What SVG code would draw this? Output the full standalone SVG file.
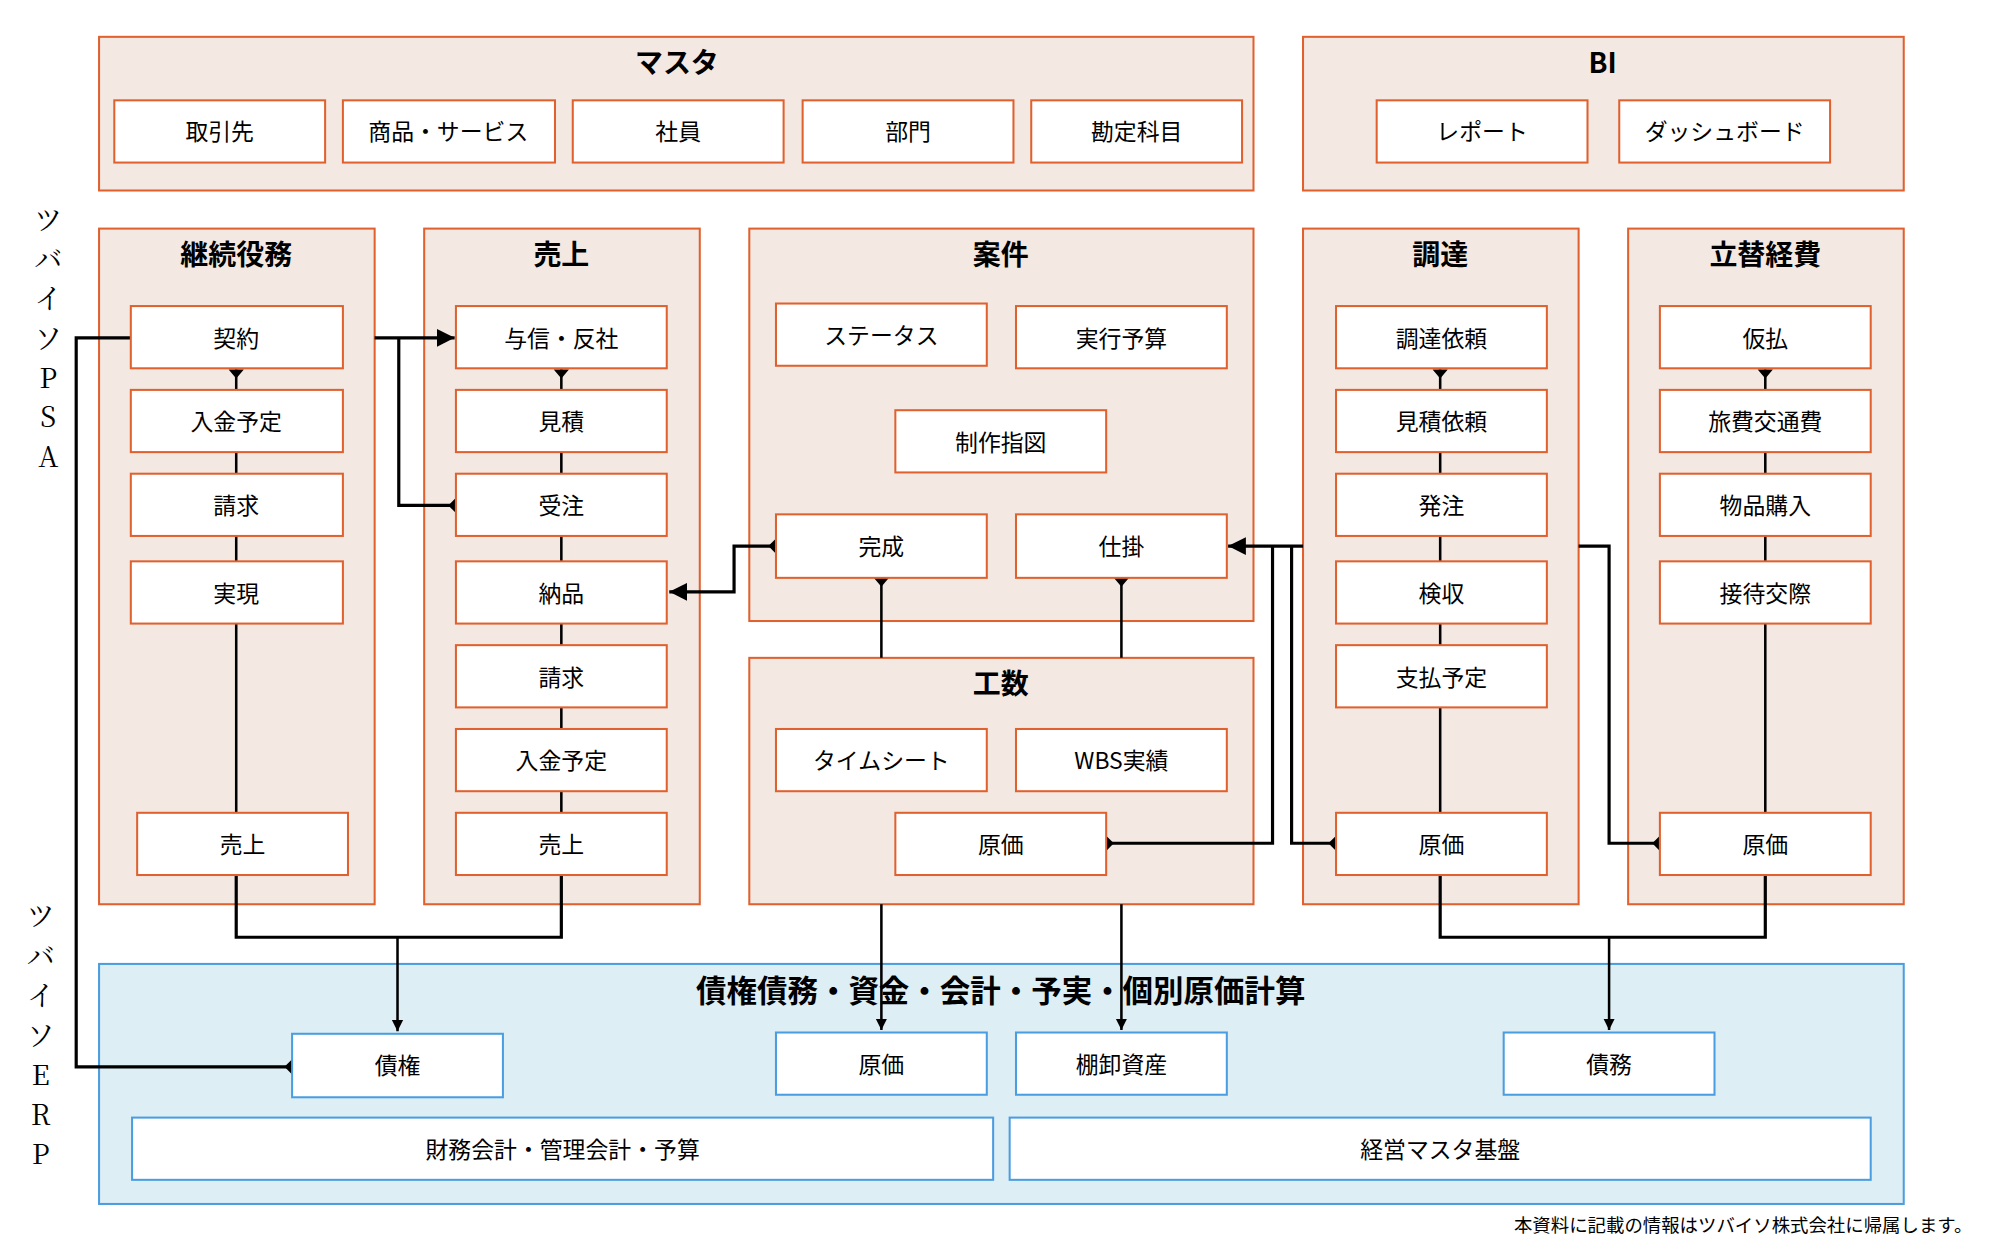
<svg xmlns="http://www.w3.org/2000/svg" width="1990" height="1254" viewBox="0 0 1990 1254">
<style>
.p{fill:#f3e8e2;stroke:#e0602e;stroke-width:1.6}
.b{fill:#fff;stroke:#e0602e;stroke-width:1.6}
.pe{fill:#ddeef5;stroke:#4a9de0;stroke-width:1.6}
.be{fill:#fff;stroke:#4a9de0;stroke-width:1.6}
text{font-family:"Noto Sans CJK JP","Noto Sans",sans-serif;fill:#000;text-anchor:middle;dominant-baseline:central}
.t{font-size:22px;font-weight:bold}
.n{font-size:18px}
.s{font-size:22px;font-family:"Noto Serif CJK JP","Liberation Serif","Noto Sans CJK JP",serif}
.c{fill:none;stroke:#000;stroke-width:2.5}
.cl{fill:none;stroke:#000;stroke-width:2}
.k{fill:#000}
</style>
<defs>
<marker id="ar" viewBox="0 0 10 10" refX="10" refY="5" markerWidth="9" markerHeight="18" orient="auto" markerUnits="userSpaceOnUse"><path d="M0,0L10,5L0,10z" fill="#000"/></marker>
<marker id="ar2" viewBox="0 0 10 10" refX="10" refY="5" markerWidth="14" markerHeight="14" orient="auto" markerUnits="userSpaceOnUse"><path d="M0,0L10,5L0,10z" fill="#000"/></marker>
</defs>
<g transform="scale(1.27)">
<g id="master"><rect class="p" x="78" y="29" width="909" height="121"/><text class="t" x="533" y="48">マスタ</text>
<rect class="b" x="90" y="79" width="166" height="49"/><text class="n" x="173" y="102">取引先</text>
<rect class="b" x="270" y="79" width="167" height="49"/><text class="n" x="353" y="102">商品・サービス</text>
<rect class="b" x="451" y="79" width="166" height="49"/><text class="n" x="534" y="102">社員</text>
<rect class="b" x="632" y="79" width="166" height="49"/><text class="n" x="715" y="102">部門</text>
<rect class="b" x="812" y="79" width="166" height="49"/><text class="n" x="895" y="102">勘定科目</text></g>
<g id="bi"><rect class="p" x="1026" y="29" width="473" height="121"/><text class="t" x="1262" y="48">BI</text>
<rect class="b" x="1084" y="79" width="166" height="49"/><text class="n" x="1167" y="102">レポート</text>
<rect class="b" x="1275" y="79" width="166" height="49"/><text class="n" x="1358" y="102">ダッシュボード</text></g>
<text class="s" x="38" y="172">ツ</text><text class="s" x="38" y="203">バ</text><text class="s" x="38" y="234">イ</text><text class="s" x="38" y="265">ソ</text><text class="s" x="38" y="296">P</text><text class="s" x="38" y="327">S</text><text class="s" x="38" y="358">A</text>
<text class="s" x="32" y="720">ツ</text><text class="s" x="32" y="752">バ</text><text class="s" x="32" y="783">イ</text><text class="s" x="32" y="814">ソ</text><text class="s" x="32" y="845">E</text><text class="s" x="32" y="876">R</text><text class="s" x="32" y="907">P</text>
<g id="panels"><rect class="p" x="78" y="180" width="217" height="532"/><text class="t" x="186" y="199">継続役務</text>
<rect class="p" x="334" y="180" width="217" height="532"/><text class="t" x="442" y="199">売上</text>
<rect class="p" x="590" y="180" width="397" height="309"/><text class="t" x="788" y="199">案件</text>
<rect class="p" x="590" y="518" width="397" height="194"/><text class="t" x="788" y="537">工数</text>
<rect class="p" x="1026" y="180" width="217" height="532"/><text class="t" x="1134" y="199">調達</text>
<rect class="p" x="1282" y="180" width="217" height="532"/><text class="t" x="1390" y="199">立替経費</text>
<rect class="pe" x="78" y="759" width="1421" height="189"/><text class="t" x="788" y="779" style="font-size:24px">債権債務・資金・会計・予実・個別原価計算</text></g>
<g id="connectors">
<path class="cl" d="M186,291V640M442,291V640M1134,291V640M1390,291V640"/>
<path class="c" d="M295,266H358" marker-end="url(#ar2)"/>
<path class="c" d="M314,266V398H359"/>
<path class="c" d="M611,430H578V466H527" marker-end="url(#ar2)"/>
<path class="cl" d="M694,455V518M883,455V518"/>
<path class="cl" d="M694,712V811" marker-end="url(#ar)"/><path class="cl" d="M883,712V811" marker-end="url(#ar)"/>
<path class="c" d="M1026,430H967" marker-end="url(#ar2)"/>
<path class="c" d="M1002,430V664H871"/>
<path class="c" d="M1017,430V664H1052"/>
<path class="c" d="M1243,430H1267V664H1307"/>
<path class="c" d="M103,266H60V840H230"/>
<path class="c" d="M186,689V738H442V689"/><path class="cl" d="M313,738V812" marker-end="url(#ar)"/>
<path class="c" d="M1134,689V738H1390V689"/><path class="cl" d="M1267,738V811" marker-end="url(#ar)"/>
<path class="k" d="M180,291H192L186,298zM436,291H448L442,298zM1128,291H1140L1134,298zM1384,291H1396L1390,298zM688,455H700L694,462zM877,455H889L883,462z"/>
<path class="k" d="M359,392V404L353,398zM611,424V436L605,430zM871,658V670L877,664zM1052,658V670L1046,664zM1307,658V670L1301,664zM230,834V846L224,840z"/>
</g>
<g id="keizoku"><rect class="b" x="103" y="241" width="167" height="49"/><text class="n" x="186" y="265">契約</text>
<rect class="b" x="103" y="307" width="167" height="49"/><text class="n" x="186" y="331">入金予定</text>
<rect class="b" x="103" y="373" width="167" height="49"/><text class="n" x="186" y="397">請求</text>
<rect class="b" x="103" y="442" width="167" height="49"/><text class="n" x="186" y="466">実現</text>
<rect class="b" x="108" y="640" width="166" height="49"/><text class="n" x="191" y="664">売上</text></g>
<g id="uriage"><rect class="b" x="359" y="241" width="166" height="49"/><text class="n" x="442" y="265">与信・反社</text>
<rect class="b" x="359" y="307" width="166" height="49"/><text class="n" x="442" y="331">見積</text>
<rect class="b" x="359" y="373" width="166" height="49"/><text class="n" x="442" y="397">受注</text>
<rect class="b" x="359" y="442" width="166" height="49"/><text class="n" x="442" y="466">納品</text>
<rect class="b" x="359" y="508" width="166" height="49"/><text class="n" x="442" y="532">請求</text>
<rect class="b" x="359" y="574" width="166" height="49"/><text class="n" x="442" y="598">入金予定</text>
<rect class="b" x="359" y="640" width="166" height="49"/><text class="n" x="442" y="664">売上</text></g>
<g id="anken"><rect class="b" x="611" y="239" width="166" height="49"/><text class="n" x="694" y="263">ステータス</text>
<rect class="b" x="800" y="241" width="166" height="49"/><text class="n" x="883" y="265">実行予算</text>
<rect class="b" x="705" y="323" width="166" height="49"/><text class="n" x="788" y="347">制作指図</text>
<rect class="b" x="611" y="405" width="166" height="50"/><text class="n" x="694" y="429">完成</text>
<rect class="b" x="800" y="405" width="166" height="50"/><text class="n" x="883" y="429">仕掛</text></g>
<g id="kosu"><rect class="b" x="611" y="574" width="166" height="49"/><text class="n" x="694" y="598">タイムシート</text>
<rect class="b" x="800" y="574" width="166" height="49"/><text class="n" x="883" y="598">WBS実績</text>
<rect class="b" x="705" y="640" width="166" height="49"/><text class="n" x="788" y="664">原価</text></g>
<g id="chotatsu"><rect class="b" x="1052" y="241" width="166" height="49"/><text class="n" x="1135" y="265">調達依頼</text>
<rect class="b" x="1052" y="307" width="166" height="49"/><text class="n" x="1135" y="331">見積依頼</text>
<rect class="b" x="1052" y="373" width="166" height="49"/><text class="n" x="1135" y="397">発注</text>
<rect class="b" x="1052" y="442" width="166" height="49"/><text class="n" x="1135" y="466">検収</text>
<rect class="b" x="1052" y="508" width="166" height="49"/><text class="n" x="1135" y="532">支払予定</text>
<rect class="b" x="1052" y="640" width="166" height="49"/><text class="n" x="1135" y="664">原価</text></g>
<g id="tatekae"><rect class="b" x="1307" y="241" width="166" height="49"/><text class="n" x="1390" y="265">仮払</text>
<rect class="b" x="1307" y="307" width="166" height="49"/><text class="n" x="1390" y="331">旅費交通費</text>
<rect class="b" x="1307" y="373" width="166" height="49"/><text class="n" x="1390" y="397">物品購入</text>
<rect class="b" x="1307" y="442" width="166" height="49"/><text class="n" x="1390" y="466">接待交際</text>
<rect class="b" x="1307" y="640" width="166" height="49"/><text class="n" x="1390" y="664">原価</text></g>
<g id="erp"><rect class="be" x="230" y="814" width="166" height="50"/><text class="n" x="313" y="838">債権</text>
<rect class="be" x="611" y="813" width="166" height="49"/><text class="n" x="694" y="837">原価</text>
<rect class="be" x="800" y="813" width="166" height="49"/><text class="n" x="883" y="837">棚卸資産</text>
<rect class="be" x="1184" y="813" width="166" height="49"/><text class="n" x="1267" y="837">債務</text>
<rect class="be" x="104" y="880" width="678" height="49"/><text class="n" x="443" y="904">財務会計・管理会計・予算</text>
<rect class="be" x="795" y="880" width="678" height="49"/><text class="n" x="1134" y="904">経営マスタ基盤</text></g>
<text x="1553" y="964" style="font-size:14.5px;text-anchor:end">本資料に記載の情報はツバイソ株式会社に帰属します。</text>
</g>
</svg>
